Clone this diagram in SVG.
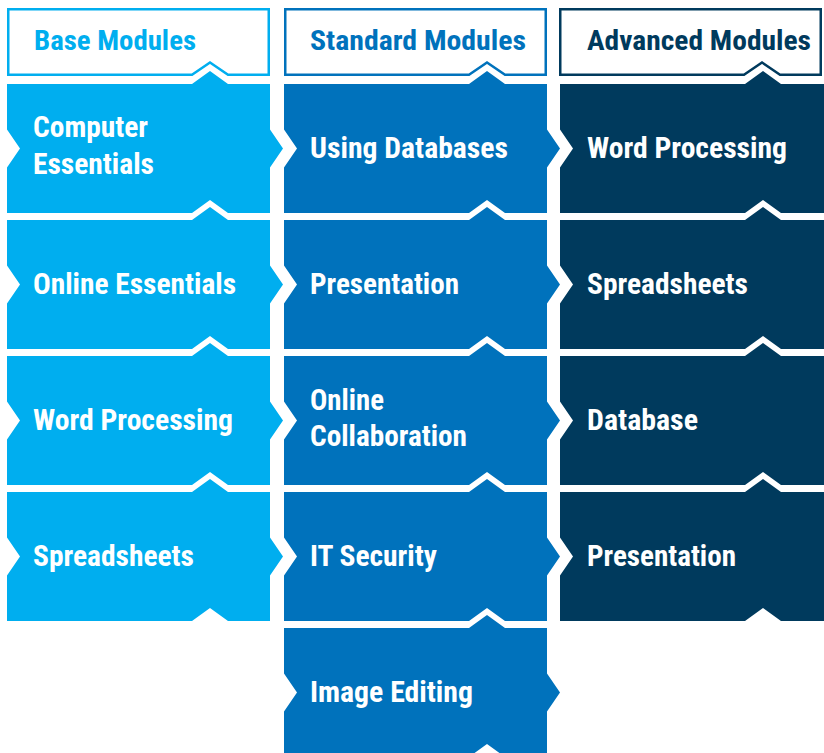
<svg xmlns="http://www.w3.org/2000/svg" xmlns:xlink="http://www.w3.org/1999/xlink" width="824" height="753" viewBox="0 0 824 753">
<style>
.t{font-family:"Liberation Sans Narrow","Roboto Condensed","DejaVu Sans Condensed",Roboto,"Liberation Sans",sans-serif;font-weight:700;}
.bt{font-size:29px;fill:#ffffff;}
.ht{font-size:27px;}
.c1{fill:#00AEEF;}
.c2{fill:#0072BC;}
.c3{fill:#003A5D;}
.h{fill:#ffffff;stroke-width:2.5;}
.h1{stroke:#00AEEF;}
.h2{stroke:#0072BC;}
.h3{stroke:#003A5D;}
</style>
<defs>
<polygon id="blk" points="0,0 185,0 203,-13 221,0 263,0 263,45.5 276,64.5 263,83.5 263,129 221,129 203,116 185,129 0,129 0,83.5 13,64.5 0,45.5"/>
<polygon id="blkEnd" points="0,0 185,0 203,-13 221,0 264,0 264,129 221,129 203,116 185,129 0,129 0,83.5 13,64.5 0,45.5"/>
<path id="hdr" d="M1.25,9.25 H261.75 V74.75 H221 L203,62.5 L185,74.75 H1.25 Z"/>
</defs>

<g id="header-base">
<use xlink:href="#hdr" href="#hdr" x="7" y="0" class="h h1"/>
<text class="t ht c1" x="34" y="49.5" textLength="162" lengthAdjust="spacingAndGlyphs">Base Modules</text>
</g>
<g id="header-standard">
<use xlink:href="#hdr" href="#hdr" x="284" y="0" class="h h2"/>
<text class="t ht c2" x="310" y="49.5" textLength="216" lengthAdjust="spacingAndGlyphs">Standard Modules</text>
</g>
<g id="header-advanced">
<use xlink:href="#hdr" href="#hdr" x="559" y="0" class="h h3"/>
<text class="t ht c3" x="587" y="49.5" textLength="224" lengthAdjust="spacingAndGlyphs">Advanced Modules</text>
</g>

<g id="base-computer-essentials">
<use xlink:href="#blk" href="#blk" x="7" y="84" class="c1"/>
<text class="t bt" x="33" y="137" textLength="115" lengthAdjust="spacingAndGlyphs">Computer</text>
<text class="t bt" x="33" y="174" textLength="121" lengthAdjust="spacingAndGlyphs">Essentials</text>
</g>
<g id="base-online-essentials">
<use xlink:href="#blk" href="#blk" x="7" y="220" class="c1"/>
<text class="t bt" x="33" y="293.5" textLength="203" lengthAdjust="spacingAndGlyphs">Online Essentials</text>
</g>
<g id="base-word-processing">
<use xlink:href="#blk" href="#blk" x="7" y="356" class="c1"/>
<text class="t bt" x="33" y="429.5" textLength="200" lengthAdjust="spacingAndGlyphs">Word Processing</text>
</g>
<g id="base-spreadsheets">
<use xlink:href="#blk" href="#blk" x="7" y="492" class="c1"/>
<text class="t bt" x="33" y="565.5" textLength="161" lengthAdjust="spacingAndGlyphs">Spreadsheets</text>
</g>

<g id="std-using-databases">
<use xlink:href="#blk" href="#blk" x="284" y="84" class="c2"/>
<text class="t bt" x="310" y="157.5" textLength="198" lengthAdjust="spacingAndGlyphs">Using Databases</text>
</g>
<g id="std-presentation">
<use xlink:href="#blk" href="#blk" x="284" y="220" class="c2"/>
<text class="t bt" x="310" y="293.5" textLength="149" lengthAdjust="spacingAndGlyphs">Presentation</text>
</g>
<g id="std-online-collaboration">
<use xlink:href="#blk" href="#blk" x="284" y="356" class="c2"/>
<text class="t bt" x="310" y="410" textLength="74" lengthAdjust="spacingAndGlyphs">Online</text>
<text class="t bt" x="310" y="446" textLength="157" lengthAdjust="spacingAndGlyphs">Collaboration</text>
</g>
<g id="std-it-security">
<use xlink:href="#blk" href="#blk" x="284" y="492" class="c2"/>
<text class="t bt" x="310" y="565.5" textLength="127" lengthAdjust="spacingAndGlyphs">IT Security</text>
</g>
<g id="std-image-editing">
<use xlink:href="#blk" href="#blk" x="284" y="628" class="c2"/>
<text class="t bt" x="310" y="701.5" textLength="163" lengthAdjust="spacingAndGlyphs">Image Editing</text>
</g>

<g id="adv-word-processing">
<use xlink:href="#blkEnd" href="#blkEnd" x="560" y="84" class="c3"/>
<text class="t bt" x="587" y="157.5" textLength="200" lengthAdjust="spacingAndGlyphs">Word Processing</text>
</g>
<g id="adv-spreadsheets">
<use xlink:href="#blkEnd" href="#blkEnd" x="560" y="220" class="c3"/>
<text class="t bt" x="587" y="293.5" textLength="161" lengthAdjust="spacingAndGlyphs">Spreadsheets</text>
</g>
<g id="adv-database">
<use xlink:href="#blkEnd" href="#blkEnd" x="560" y="356" class="c3"/>
<text class="t bt" x="587" y="429.5" textLength="111" lengthAdjust="spacingAndGlyphs">Database</text>
</g>
<g id="adv-presentation">
<use xlink:href="#blkEnd" href="#blkEnd" x="560" y="492" class="c3"/>
<text class="t bt" x="587" y="565.5" textLength="149" lengthAdjust="spacingAndGlyphs">Presentation</text>
</g>
</svg>
